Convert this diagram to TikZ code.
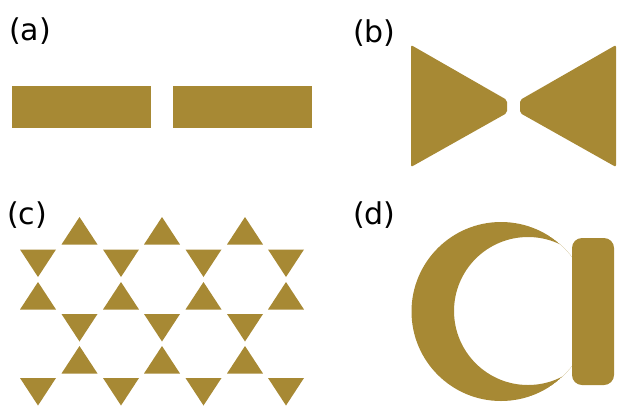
\documentclass[tikz,border=0pt]{standalone}
\usepackage{fontspec}
\setmainfont{DejaVu Sans}
\usepackage{xcolor}
\definecolor{antennagold}{RGB}{167,137,52}

\begin{document}
\begin{tikzpicture}[
    x=1pt, y=-1pt,
    panel/.style={inner sep=0pt, anchor=base west, font=\fontsize{30}{32}\selectfont},
    metal/.style={fill=antennagold, draw=none},
    tri/.style={metal}
]
\useasboundingbox (0,0) rectangle (618,405);

% Panel labels
\node (labela) [panel] at (9,40) {(a)};
\node (labelb) [panel] at (353,42) {(b)};
\node (labelc) [panel] at (7,224) {(c)};
\node (labeld) [panel] at (353,224) {(d)};

% (a) dipole bars
\fill[metal] (12,86) rectangle (151,128);
\fill[metal] (173,86) rectangle (312,128);

% (b) bowtie
\fill[metal, rounded corners=2pt] (411,45) -- (507,100) -- (507,113) -- (411,167) -- cycle;
\fill[metal, rounded corners=2pt] (616,45) -- (520,100) -- (520,113) -- (616,167) -- cycle;

% (c) triangle lattice
\foreach \x in {79.5,162,245}
    \fill[tri] (\x-18,244.5) -- (\x,217) -- (\x+18,244.5) -- cycle;
\foreach \x in {38,121,203.5,286}
    \fill[tri] (\x-18,249.5) -- (\x+18,249.5) -- (\x,277) -- cycle;
\foreach \x in {38,121,203.5,286}
    \fill[tri] (\x-18,309.5) -- (\x,282) -- (\x+18,309.5) -- cycle;
\foreach \x in {79.5,162,245}
    \fill[tri] (\x-18,314) -- (\x+18,314) -- (\x,341.5) -- cycle;
\foreach \x in {79.5,162,245}
    \fill[tri] (\x-18,373.5) -- (\x,346) -- (\x+18,373.5) -- cycle;
\foreach \x in {38,121,203.5,286}
    \fill[tri] (\x-18,378) -- (\x+18,378) -- (\x,405.5) -- cycle;

% (d) crescent and bar
\begin{scope}
    \clip (501,311.5) circle (89.5);
    \fill[metal, even odd rule] (501,311.5) circle (89.5) (528,311) circle (74);
\end{scope}
\fill[metal, rounded corners=10pt] (572,238) rectangle (614,385);

\end{tikzpicture}
\end{document}
